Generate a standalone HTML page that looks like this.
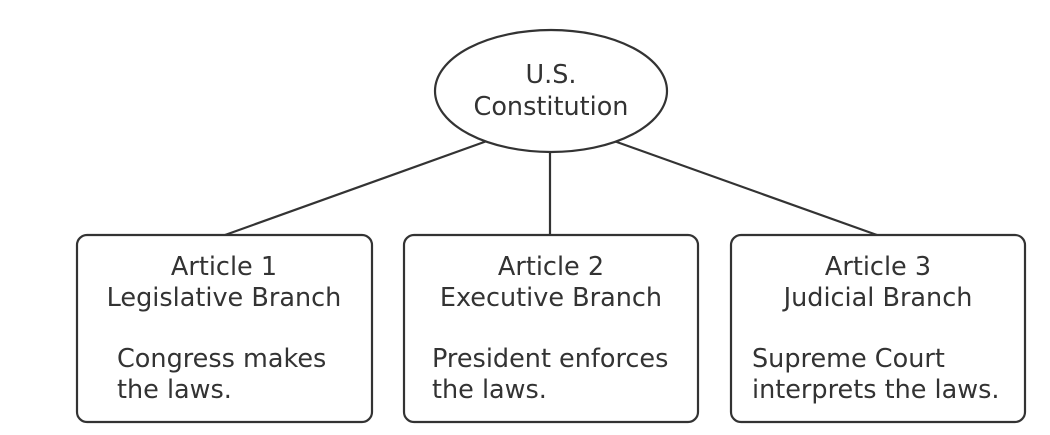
<!DOCTYPE html>
<html><head><style>
html,body{margin:0;padding:0;background:#fff;}
svg{display:block;}
text{font-family:"DejaVu Sans","Liberation Sans",sans-serif;font-size:25.5px;fill:#333;}
</style></head><body>
<svg width="1050" height="435" viewBox="0 0 1050 435" xmlns="http://www.w3.org/2000/svg">
<g stroke="#333" stroke-width="2.2" fill="none">
<line x1="487" y1="141" x2="225" y2="235"/>
<line x1="614" y1="141" x2="877" y2="235"/>
<line x1="550" y1="152" x2="550" y2="235"/>
<ellipse cx="551" cy="91" rx="116" ry="61" fill="#fff"/>
<rect x="77" y="235" width="295" height="187" rx="10" fill="#fff"/>
<rect x="404" y="235" width="294" height="187" rx="10" fill="#fff"/>
<rect x="731" y="235" width="294" height="187" rx="10" fill="#fff"/>
</g>
<text x="551" y="83" text-anchor="middle">U.S.</text>
<text x="551" y="115" text-anchor="middle">Constitution</text>
<text x="224" y="275" text-anchor="middle">Article 1</text>
<text x="224" y="306" text-anchor="middle">Legislative Branch</text>
<text x="117" y="367">Congress makes</text>
<text x="117" y="398">the laws.</text>
<text x="551" y="275" text-anchor="middle">Article 2</text>
<text x="551" y="306" text-anchor="middle">Executive Branch</text>
<text x="432" y="367">President enforces</text>
<text x="432" y="398">the laws.</text>
<text x="878" y="275" text-anchor="middle">Article 3</text>
<text x="878" y="306" text-anchor="middle">Judicial Branch</text>
<text x="752" y="367">Supreme Court</text>
<text x="752" y="398">interprets the laws.</text>
</svg>
</body></html>
